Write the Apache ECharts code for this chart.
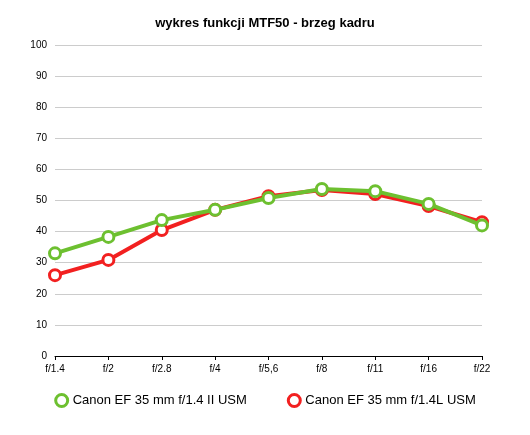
<!DOCTYPE html>
<html><head><meta charset="utf-8">
<script src="https://cdn.jsdelivr.net/npm/echarts@6/dist/echarts.min.js"></script>
<style>html,body{margin:0;padding:0;background:#fff}#c{width:530px;height:435px}</style>
</head><body><div id="c"></div>
<script>
const categories=['f/1.4','f/2','f/2.8','f/4','f/5,6','f/8','f/11','f/16','f/22'];
const greenName='Canon EF 35 mm f/1.4 II USM';
const redName='Canon EF 35 mm f/1.4L USM';
const greenValues=[33,38.3,43.7,47,50.8,53.7,53,48.9,42];
const redValues=[26,30.9,40.5,47,51.4,53.4,52.1,48.2,43];
const chart=echarts.init(document.getElementById('c'));
const mk=(name,data,color,z)=>({name,type:'line',data,z,symbol:'circle',symbolSize:11,
 lineStyle:{color,width:4},itemStyle:{color:'#fff',borderColor:color,borderWidth:3},color});
chart.setOption({
 animation:false,
 title:{text:'wykres funkcji MTF50 - brzeg kadru',left:'center',top:12,textStyle:{fontSize:13,fontWeight:'bold',color:'#000',fontFamily:'Liberation Sans'}},
 grid:{left:55,right:48,top:45,bottom:79},
 legend:{bottom:22,itemGap:40,icon:'circle',itemWidth:12,itemHeight:12,textStyle:{fontSize:13,color:'#000',fontFamily:'Liberation Sans'},
  data:[{name:greenName,itemStyle:{color:'#fff',borderColor:'#6dc030',borderWidth:3}},{name:redName,itemStyle:{color:'#fff',borderColor:'#f22020',borderWidth:3}}]},
 xAxis:{type:'category',data:categories,boundaryGap:false,axisLine:{lineStyle:{color:'#000'}},axisTick:{show:true,length:4,lineStyle:{color:'#000'}},
  axisLabel:{color:'#000',fontSize:10,fontFamily:'Liberation Sans'}},
 yAxis:{type:'value',min:0,max:100,interval:10,axisLine:{show:false},axisTick:{show:false},
  axisLabel:{color:'#000',fontSize:10,fontFamily:'Liberation Sans'},splitLine:{lineStyle:{color:'#ccc'}}},
 series:[mk(redName,redValues,'#f22020',2),mk(greenName,greenValues,'#6dc030',3)]
});
</script></body></html>
